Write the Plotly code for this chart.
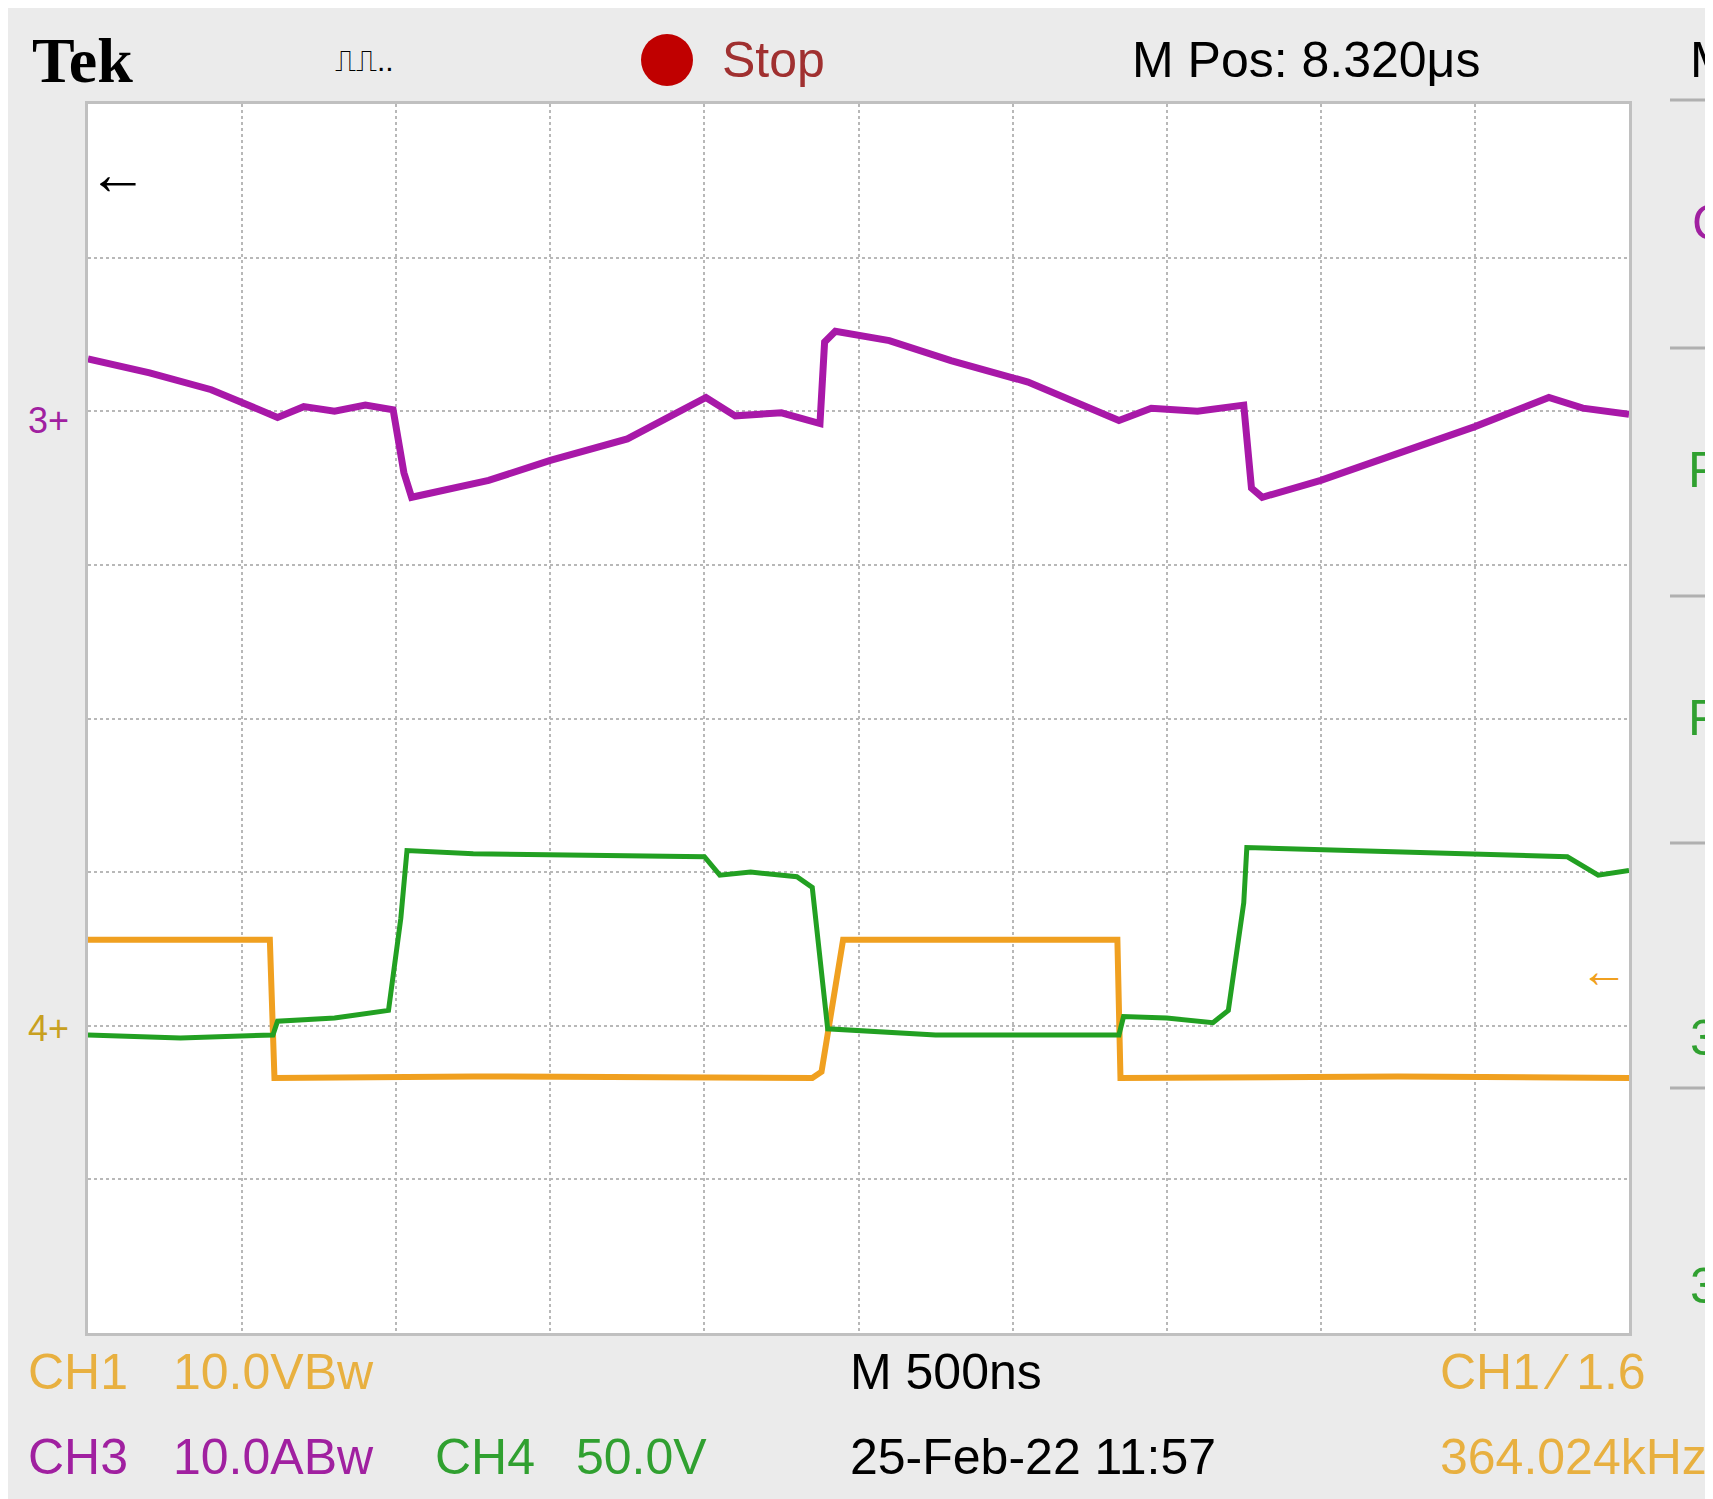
import plotly.graph_objects as go

# trace breakpoints, in screen divisions (x 0..10, y 0..8)
ch3_x = [0, 0.4, 0.8, 1.23, 1.4, 1.6, 1.8, 1.98, 2.05, 2.1, 2.6, 3.0, 3.5, 4.01, 4.2, 4.5, 4.75, 4.78, 4.85, 5.2, 5.6, 6.1, 6.69, 6.9, 7.2, 7.5, 7.55, 7.62, 8.0, 8.5, 9.0, 9.48, 9.7, 10]
ch3_y = [6.34, 6.25, 6.14, 5.96, 6.03, 6.0, 6.04, 6.01, 5.6, 5.44, 5.55, 5.68, 5.82, 6.09, 5.97, 5.99, 5.92, 6.45, 6.52, 6.46, 6.33, 6.19, 5.94, 6.02, 6.0, 6.04, 5.5, 5.44, 5.55, 5.72, 5.9, 6.09, 6.02, 5.98]
ch4_x = [0, 0.6, 1.2, 1.23, 1.6, 1.95, 2.03, 2.07, 2.5, 3.2, 4.0, 4.1, 4.3, 4.6, 4.7, 4.8, 5.5, 6.69, 6.72, 7.0, 7.3, 7.4, 7.5, 7.52, 8.2, 9.0, 9.6, 9.8, 10]
ch4_y = [1.94, 1.92, 1.94, 2.03, 2.05, 2.1, 2.7, 3.14, 3.12, 3.11, 3.1, 2.98, 3.0, 2.97, 2.9, 1.98, 1.94, 1.94, 2.06, 2.05, 2.02, 2.1, 2.8, 3.16, 3.14, 3.12, 3.1, 2.98, 3.01]
ch1_x = [0, 1.18, 1.21, 2.5, 4.7, 4.76, 4.9, 6.68, 6.7, 8.5, 10]
ch1_y = [2.56, 2.56, 1.66, 1.67, 1.66, 1.7, 2.56, 2.56, 1.66, 1.67, 1.66]

W, H = 1713, 1499
L, R, T, B = 80, 92, 96, 174

fig = go.Figure()
fig.add_trace(go.Scatter(x=ch1_x, y=ch1_y, mode="lines", line=dict(color="#f0a020", width=6)))
fig.add_trace(go.Scatter(x=ch4_x, y=ch4_y, mode="lines", line=dict(color="#22a022", width=5)))
fig.add_trace(go.Scatter(x=ch3_x, y=ch3_y, mode="lines", line=dict(color="#a818a8", width=7)))

ax = dict(showgrid=True, gridcolor="#b8b8b8", griddash="dot", gridwidth=2, zeroline=False,
          showticklabels=False, ticks="", showline=True, linecolor="#c0c0c0", linewidth=3, mirror=True)
fig.update_xaxes(range=[0, 10], dtick=1, **ax)
fig.update_yaxes(range=[0, 8], dtick=1, **ax)


def px(x):
    return (x - L) / (W - L - R)


def py(y):
    return (H - B - y) / (H - T - B)


font = "Liberation Sans Narrow, Arial Narrow, Liberation Sans, sans-serif"
texts = [
    ("<b>Tek</b>", 22, 52, "black", 64, "Liberation Serif, serif"),
    ("⎍⎍..", 325, 52, "black", 30, font),
    ("Stop", 712, 52, "#a03030", 50, font),
    ("M Pos: 8.320μs", 1122, 52, "black", 50, font),
    ("M", 1680, 52, "black", 50, font),
    ("CH1", 18, 1364, "#e8b040", 50, font),
    ("10.0VBw", 163, 1364, "#e8b040", 50, font),
    ("M 500ns", 840, 1364, "black", 50, font),
    ("CH1 ⁄ 1.6", 1430, 1364, "#e8b040", 50, font),
    ("CH3", 18, 1449, "#a020a0", 50, font),
    ("10.0ABw", 163, 1449, "#a020a0", 50, font),
    ("CH4", 425, 1449, "#30a030", 50, font),
    ("50.0V", 566, 1449, "#30a030", 50, font),
    ("25-Feb-22 11:57", 840, 1449, "black", 50, font),
    ("364.024kHz", 1430, 1449, "#e8b040", 50, font),
    ("3+", 18, 412, "#a020a0", 36, font),
    ("4+", 18, 1020, "#c8a020", 36, font),
    ("C", 1682, 215, "#a020a0", 50, font),
    ("F", 1678, 462, "#30a030", 50, font),
    ("F", 1678, 710, "#30a030", 50, font),
    ("3", 1680, 1030, "#30a030", 50, font),
    ("3", 1680, 1278, "#30a030", 50, font),
]
for t, x, y, c, s, f in texts:
    fig.add_annotation(text=t, x=px(x), y=py(y), xref="paper", yref="paper", xanchor="left",
                       yanchor="middle", showarrow=False, font=dict(color=c, size=s, family=f))

fig.add_shape(type="circle", xref="paper", yref="paper", x0=px(633), x1=px(685), y0=py(26), y1=py(78),
              fillcolor="#c00000", line=dict(width=0))
for yy in [92, 340, 588, 835, 1080]:
    fig.add_shape(type="line", xref="paper", yref="paper", x0=px(1662), x1=px(1713), y0=py(yy), y1=py(yy),
                  line=dict(color="#b0b0b0", width=3))
fig.add_annotation(text="<b>←</b>", x=px(78), y=py(120), xref="paper", yref="paper", xanchor="left",
                   showarrow=False, font=dict(color="black", size=60))
fig.add_annotation(text="<b>←</b>", x=px(1570), y=py(995), xref="paper", yref="paper", xanchor="left",
                   showarrow=False, font=dict(color="#f0a020", size=48))

fig.update_layout(width=W, height=H, margin=dict(l=L, r=R, t=T, b=B), showlegend=False,
                  paper_bgcolor="#ebebeb", plot_bgcolor="white")
fig.write_html("out.html")
